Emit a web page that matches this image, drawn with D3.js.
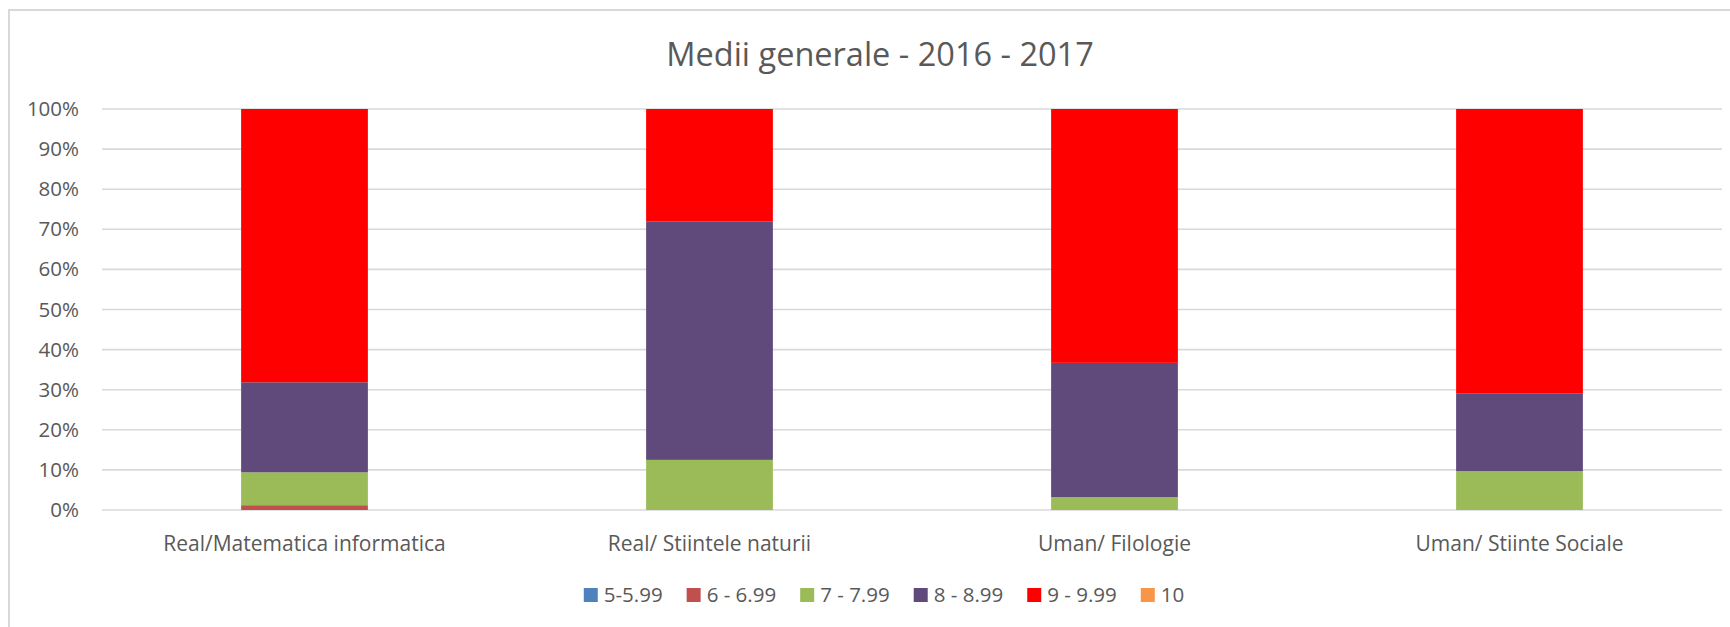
<!DOCTYPE html>
<html lang="ro">
<head>
    <meta charset="UTF-8">
    <title>Medii generale - 2016 - 2017</title>
    <script src="https://d3js.org/d3.v7.min.js"></script>
    <style>
        body { margin: 0; background: #fff; }
        svg { display: block; font-family: "Open Sans", sans-serif; }
        .title { font-size: 32.5px; fill: #595959; text-anchor: middle; }
        .axis text { font-size: 20.5px; fill: #595959; font-family: "Open Sans", sans-serif; }
        .axis path, .axis line { display: none; }
        .grid line { stroke: #d9d9d9; stroke-width: 1.6; }
        .legend text { font-size: 20.5px; fill: #595959; }
    </style>
</head>
<body>
    <div id="chart"></div>
    <script>
        const categories = ["Real/Matematica informatica", "Real/ Stiintele naturii", "Uman/ Filologie", "Uman/ Stiinte Sociale"];
        const seriesNames = ["5-5.99", "6 - 6.99", "7 - 7.99", "8 - 8.99", "9 - 9.99", "10"];
        const seriesColors = ["#4f81bd", "#c0504d", "#9bbb59", "#604a7b", "#ff0000", "#f79646"];

        // procente
        const s5 = [0, 0, 0, 0];
        const s6 = [1.2, 0, 0, 0];
        const s7 = [8.2, 12.5, 3.2, 9.7];
        const s8 = [22.45, 59.5, 33.5, 19.3];
        const s9 = [68.15, 28.0, 63.3, 71.0];
        const s10 = [0, 0, 0, 0];
        const yTicks = [0, 0.1, 0.2, 0.3, 0.4, 0.5, 0.6, 0.7, 0.8, 0.9, 1];

        const allSeries = [s5, s6, s7, s8, s9, s10];
        const rows = categories.map((c, i) => {
            const r = {cat: c};
            seriesNames.forEach((s, j) => r[s] = allSeries[j][i]);
            return r;
        });

        const W = 1730, H = 627;
        const margin = {top: 109, right: 8, bottom: 117, left: 102};
        const width = W - margin.left - margin.right;
        const height = H - margin.top - margin.bottom;

        const svg = d3.select("#chart").append("svg")
            .attr("width", W)
            .attr("height", H);

        // chenarul graficului (taiat in dreapta si jos)
        svg.append("rect")
            .attr("x", 9).attr("y", 10)
            .attr("width", W + 20).attr("height", H + 20)
            .attr("fill", "none")
            .attr("stroke", "#d9d9d9")
            .attr("stroke-width", 2);

        svg.append("text")
            .attr("class", "title")
            .attr("x", 880)
            .attr("y", 66)
            .text("Medii generale - 2016 - 2017");

        const g = svg.append("g").attr("transform", `translate(${margin.left},${margin.top})`);

        const x = d3.scaleBand()
            .domain(categories)
            .range([0, width])
            .paddingInner(0.687)
            .paddingOuter(0.3435);

        const y = d3.scaleLinear().domain([0, 1]).range([height, 0]);

        g.append("g").attr("class", "grid")
            .selectAll("line")
            .data(yTicks)
            .enter().append("line")
            .attr("x1", 0).attr("x2", width)
            .attr("y1", d => y(d)).attr("y2", d => y(d));

        const stack = d3.stack().keys(seriesNames).offset(d3.stackOffsetExpand);
        const layers = stack(rows);

        g.selectAll(".layer")
            .data(layers)
            .enter().append("g")
            .attr("class", "layer")
            .attr("fill", (d, i) => seriesColors[i])
            .selectAll("rect")
            .data(d => d)
            .enter().append("rect")
            .attr("x", d => x(d.data.cat))
            .attr("width", x.bandwidth())
            .attr("y", d => y(d[1]))
            .attr("height", d => y(d[0]) - y(d[1]));

        g.append("g").attr("class", "axis")
            .call(d3.axisLeft(y).tickValues(yTicks).tickSize(0).tickPadding(23)
                .tickFormat(d => Math.round(d * 100) + "%"));

        g.append("g").attr("class", "axis")
            .attr("transform", `translate(0,${height})`)
            .call(d3.axisBottom(x).tickSize(0).tickPadding(26))
            .selectAll("text").style("font-size", "21px");

        // legenda
        const legend = svg.append("g").attr("class", "legend");
        const items = legend.selectAll("g")
            .data(seriesNames)
            .enter().append("g");
        items.append("rect")
            .attr("width", 14).attr("height", 14)
            .attr("y", -14)
            .attr("fill", (d, i) => seriesColors[i]);
        items.append("text")
            .attr("x", 20)
            .attr("y", 0)
            .text(d => d);

        let pos = 0;
        items.each(function () {
            d3.select(this).attr("transform", `translate(${pos},0)`);
            pos += 20 + this.querySelector("text").getComputedTextLength() + 24;
        });
        const legendWidth = pos - 24;
        legend.attr("transform", `translate(${884 - legendWidth / 2},602)`);
    </script>
</body>
</html>
